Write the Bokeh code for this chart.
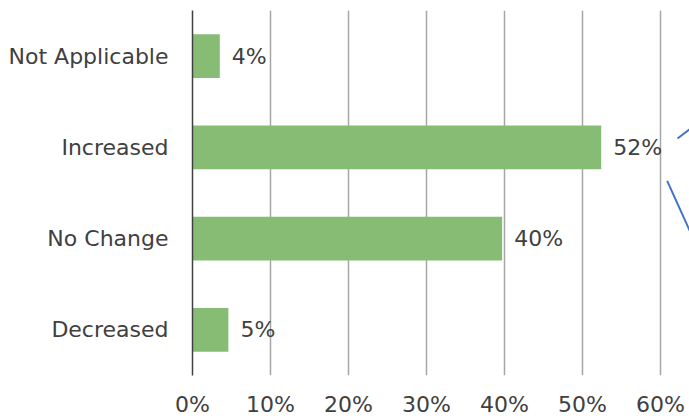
from bokeh.plotting import figure
from bokeh.models import FactorRange, Range1d, FixedTicker, NumeralTickFormatter, ColumnDataSource
from bokeh.embed import file_html
from bokeh.resources import INLINE

categories = ["Decreased", "No Change", "Increased", "Not Applicable"]
values = [0.046, 0.397, 0.524, 0.035]
labels = ["5%", "40%", "52%", "4%"]
x_ticks = [0.0, 0.1, 0.2, 0.3, 0.4, 0.5, 0.6]

# partial callout lines visible at the right edge (cropped in the reference)
callout_x0 = [0.6218, 0.6086]
callout_y0 = [("Increased", 0.097), ("Increased", -0.368)]
callout_x1 = [0.6450, 0.6500]
callout_y1 = [("Increased", 0.247), ("No Change", -0.15)]

FONT = "DejaVu Sans"
TXT = "#404040"
FS = "22px"

p = figure(width=689, height=419, y_range=FactorRange(*categories, range_padding=0),
           x_range=Range1d(0, 0.6372), output_backend="svg", toolbar_location=None,
           min_border_left=192, min_border_right=0, min_border_top=10, min_border_bottom=40)

src = ColumnDataSource(dict(cat=categories, val=values, lab=labels))
p.hbar(y="cat", right="val", left=0, height=0.48, source=src, color="#86bc74", line_color=None)
p.text(x="val", y="cat", text="lab", source=src, x_offset=12, text_baseline="middle",
       text_align="left", text_font_size=FS, text_color=TXT, text_font={"value": FONT})

seg = ColumnDataSource(dict(x0=callout_x0, y0=callout_y0, x1=callout_x1, y1=callout_y1))
p.segment(x0="x0", y0="y0", x1="x1", y1="y1", source=seg, line_color="#4472c4", line_width=2)

p.outline_line_color = None
p.ygrid.grid_line_color = None
p.xgrid.grid_line_color = "#a6a6a6"
p.xgrid.grid_line_width = 1.5
p.xaxis.ticker = FixedTicker(ticks=x_ticks)
p.xaxis.formatter = NumeralTickFormatter(format="0%")
p.xaxis.axis_line_color = None
p.xaxis.major_tick_line_color = None
p.xaxis.minor_tick_line_color = None
p.xaxis.major_label_standoff = 10
p.xaxis.major_label_text_font_size = FS
p.xaxis.major_label_text_color = TXT
p.xaxis.major_label_text_font = FONT

p.yaxis.axis_line_color = "#404040"
p.yaxis.axis_line_width = 1.5
p.yaxis.major_tick_line_color = None
p.yaxis.minor_tick_line_color = None
p.yaxis.major_label_standoff = 18
p.yaxis.major_label_text_font_size = FS
p.yaxis.major_label_text_color = TXT
p.yaxis.major_label_text_font = FONT

open("out.html", "w").write(file_html(p, INLINE))
